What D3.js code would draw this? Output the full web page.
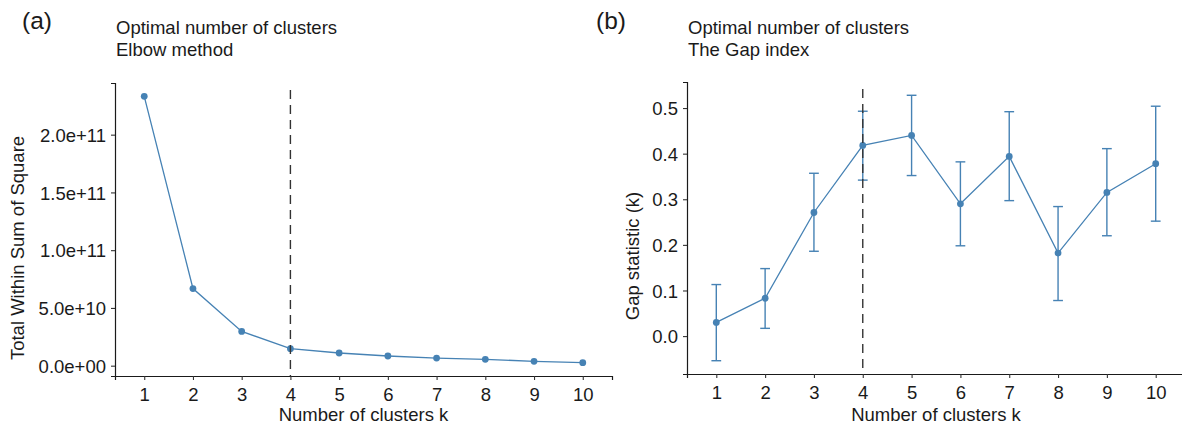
<!DOCTYPE html>
<html>
<head>
<meta charset="utf-8">
<script src="https://cdn.jsdelivr.net/npm/d3@7"></script>
<style>
  body { margin: 0; background: #fff; }
  text { font-family: "Liberation Sans", Arial, sans-serif; fill: #1a1a1a; }
</style>
</head>
<body>
<div id="chart"></div>
<script>
// number of clusters k
var clusters = [1, 2, 3, 4, 5, 6, 7, 8, 9, 10];

// (a) elbow method: total within sum of square
var wss = [2.332e11, 6.68e10, 2.97e10, 1.47e10, 1.10e10, 0.84e10, 0.66e10, 0.55e10, 0.38e10, 0.26e10];
var wssTicks = [0, 5e10, 1e11, 1.5e11, 2e11];
var wssTickLabels = ["0.0e+00", "5.0e+10", "1.0e+11", "1.5e+11", "2.0e+11"];

// (b) gap statistic with its error bars
var gap = [0.030, 0.083, 0.271, 0.418, 0.440, 0.290, 0.394, 0.182, 0.315, 0.378];
var gapLower = [-0.054, 0.017, 0.186, 0.342, 0.352, 0.198, 0.297, 0.078, 0.220, 0.252];
var gapUpper = [0.113, 0.148, 0.357, 0.493, 0.528, 0.382, 0.492, 0.284, 0.411, 0.504];
var gapTicks = [0, 0.1, 0.2, 0.3, 0.4, 0.5];

var optimalK = 4;
var blue = "steelblue";
var fs = "18.5px";

var W = 1182, H = 426;
var svg = d3.select("#chart").append("svg")
  .attr("width", W)
  .attr("height", H);

function drawPanel(opt) {
  var g = svg.append("g");
  var x = d3.scaleLinear().domain([0.4, 10.6]).range([opt.left, opt.right]);

  // ggplot style 5% expansion around the data
  var lo = d3.min(opt.lower || opt.values), hi = d3.max(opt.upper || opt.values);
  var pad = (hi - lo) * 0.05;
  var y = d3.scaleLinear().domain([lo - pad, hi + pad]).range([opt.bottom, opt.top]);

  // tag and titles
  g.append("text").attr("x", opt.tagX).attr("y", 29)
    .style("font-size", "24.5px").text(opt.tag);
  g.append("text").attr("x", opt.left + 1).attr("y", 34)
    .style("font-size", fs).text("Optimal number of clusters");
  g.append("text").attr("x", opt.left + 1).attr("y", 56)
    .style("font-size", fs).text(opt.subtitle);

  // axes
  var xAxis = g.append("g")
    .attr("transform", "translate(0," + opt.bottom + ")")
    .call(d3.axisBottom(x).tickValues(clusters).tickFormat(d3.format("d")).tickSizeOuter(0).tickSize(4).tickPadding(5));
  var yAxis = g.append("g")
    .attr("transform", "translate(" + opt.left + ",0)")
    .call(d3.axisLeft(y).tickValues(opt.ticks)
      .tickFormat(function(d, i) { return opt.tickLabels[i]; })
      .tickSizeOuter(0).tickSize(4).tickPadding(5));
  [xAxis, yAxis].forEach(function(a) {
    a.select(".domain").attr("stroke", "#1a1a1a").attr("stroke-width", 1.2);
    a.selectAll(".tick line").attr("stroke", "#333").attr("stroke-width", 1.1);
    a.selectAll(".tick text").style("font-size", fs).attr("fill", "#1a1a1a")
      .style("font-family", "'Liberation Sans', Arial, sans-serif");
  });
  yAxis.selectAll(".tick text").attr("dy", "0.36em");
  xAxis.selectAll(".tick text").attr("dy", "0.85em");

  g.append("text")
    .attr("x", (opt.left + opt.right) / 2).attr("y", 421)
    .attr("text-anchor", "middle").style("font-size", fs)
    .text("Number of clusters k");
  g.append("text")
    .attr("transform", "translate(" + opt.yTitleX + "," + opt.yTitleY + ") rotate(-90)")
    .attr("text-anchor", "middle").style("font-size", fs)
    .text(opt.yTitle);

  // error bars
  if (opt.lower) {
    var eb = g.append("g").attr("stroke", blue).attr("stroke-width", 1.4).attr("fill", "none");
    clusters.forEach(function(k, i) {
      eb.append("line").attr("x1", x(k)).attr("x2", x(k))
        .attr("y1", y(opt.lower[i])).attr("y2", y(opt.upper[i]));
      eb.append("line").attr("x1", x(k - 0.1)).attr("x2", x(k + 0.1))
        .attr("y1", y(opt.lower[i])).attr("y2", y(opt.lower[i]));
      eb.append("line").attr("x1", x(k - 0.1)).attr("x2", x(k + 0.1))
        .attr("y1", y(opt.upper[i])).attr("y2", y(opt.upper[i]));
    });
  }

  // line + points
  var line = d3.line()
    .x(function(d, i) { return x(clusters[i]); })
    .y(function(d) { return y(d); });
  g.append("path").datum(opt.values)
    .attr("d", line).attr("fill", "none")
    .attr("stroke", blue).attr("stroke-width", 1.3);
  g.selectAll("circle.pt").data(opt.values).enter().append("circle")
    .attr("class", "pt")
    .attr("cx", function(d, i) { return x(clusters[i]); })
    .attr("cy", function(d) { return y(d); })
    .attr("r", 3.4).attr("fill", blue);

  // optimal k
  g.append("line")
    .attr("x1", x(optimalK)).attr("x2", x(optimalK))
    .attr("y1", opt.top + 7).attr("y2", opt.bottom)
    .attr("stroke", "#333").attr("stroke-width", 1.4)
    .attr("stroke-dasharray", "9,6");
}

drawPanel({
  tag: "(a)", tagX: 22, subtitle: "Elbow method",
  left: 115, right: 612, top: 83, bottom: 376,
  values: wss, ticks: wssTicks, tickLabels: wssTickLabels,
  yTitle: "Total Within Sum of Square", yTitleX: 24, yTitleY: 248
});

drawPanel({
  tag: "(b)", tagX: 596, subtitle: "The Gap index",
  left: 687, right: 1185, top: 82, bottom: 374,
  values: gap, lower: gapLower, upper: gapUpper,
  ticks: gapTicks, tickLabels: gapTicks.map(d3.format(".1f")),
  yTitle: "Gap statistic (k)", yTitleX: 639, yTitleY: 256
});
</script>
</body>
</html>
